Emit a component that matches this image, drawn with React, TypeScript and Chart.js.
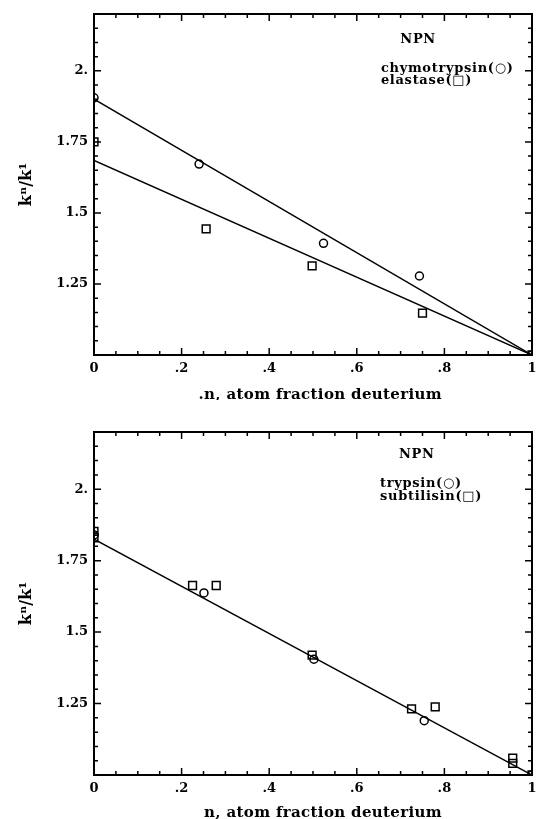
import React, { useEffect, useRef } from "react";
import { Chart, registerables } from "chart.js";
Chart.register(...registerables);

// ---- data: top panel (NPN, chymotrypsin / elastase) ----
const topChymoX = [0, 0.24, 0.524, 0.743, 1];
const topChymoY = [1.905, 1.672, 1.393, 1.278, 1.0];
const topElastX = [0, 0.256, 0.498, 0.75, 1];
const topElastY = [1.75, 1.444, 1.314, 1.147, 1.0];
const topChymoFitX = [0, 1];
const topChymoFitY = [1.9, 1.0];
const topElastFitX = [0, 1];
const topElastFitY = [1.685, 1.0];

// ---- data: bottom panel (NPN, trypsin / subtilisin) ----
const botTrypX = [0, 0.251, 0.502, 0.754, 1];
const botTrypY = [1.84, 1.637, 1.405, 1.19, 1.0];
const botSubX = [0, 0, 0.225, 0.279, 0.498, 0.725, 0.779, 0.956, 0.956, 1];
const botSubY = [1.852, 1.83, 1.663, 1.663, 1.419, 1.231, 1.238, 1.059, 1.041, 1.0];
const botFitX = [0, 1];
const botFitY = [1.825, 1.0];

// ---- ticks ----
const xTickValues = [0, 0.2, 0.4, 0.6, 0.8, 1];
const xTickLabels = ["0", ".2", ".4", ".6", ".8", "1"];
const yTickValues = [1.25, 1.5, 1.75, 2.0];
const yTickLabels = ["1.25", "1.5", "1.75", "2."];

const topTitleX = ".n, atom fraction deuterium";
const botTitleX = "n, atom fraction deuterium";
const titleY = "k\u207F/k\u00B9";
const topNotes = ["NPN", "chymotrypsin(\u25CB)", "elastase(\u25A1)"];
const botNotes = ["NPN", "trypsin(\u25CB)", "subtilisin(\u25A1)"];

const FONT = "'DejaVu Serif', serif";

const pts = (xs: number[], ys: number[]) => xs.map((x, i) => ({ x, y: ys[i] }));

function framePlugin() {
  return {
    id: "frameTicks",
    afterDraw(chart: any) {
      const { ctx, chartArea: a, scales } = chart;
      const xs = scales.x, ys = scales.y;
      ctx.save();
      ctx.strokeStyle = "#000";
      ctx.lineWidth = 2;
      ctx.strokeRect(a.left, a.top, a.right - a.left, a.bottom - a.top);
      ctx.lineWidth = 1.5;
      ctx.beginPath();
      for (let i = 0; i <= 20; i++) {
        const px = xs.getPixelForValue(i * 0.05);
        const len = i % 4 === 0 ? 7 : 4;
        ctx.moveTo(px, a.bottom); ctx.lineTo(px, a.bottom - len);
        ctx.moveTo(px, a.top); ctx.lineTo(px, a.top + len);
      }
      for (let i = 0; i <= 24; i++) {
        const py = ys.getPixelForValue(1 + i * 0.05);
        const len = i % 5 === 0 ? 7 : 4;
        ctx.moveTo(a.left, py); ctx.lineTo(a.left + len, py);
        ctx.moveTo(a.right, py); ctx.lineTo(a.right - len, py);
      }
      ctx.stroke();
      ctx.restore();
    },
  };
}

function textPlugin(
  lines: string[],
  xTitle: string,
  titleDy: number,
  nx: number,
  ny: number,
  lx: number,
  ly1: number,
  ly2: number
) {
  return {
    id: "notes",
    afterDraw(chart: any) {
      const { ctx, scales, chartArea: a } = chart;
      const xs = scales.x, ys = scales.y;
      ctx.save();
      ctx.fillStyle = "#000";
      ctx.textBaseline = "middle";
      ctx.font = `bold 13px ${FONT}`;
      (ctx as any).letterSpacing = "0.7px";
      ctx.textAlign = "center";
      ctx.fillText(lines[0], xs.getPixelForValue(nx), ys.getPixelForValue(ny));
      ctx.textAlign = "left";
      ctx.fillText(lines[1], xs.getPixelForValue(lx), ys.getPixelForValue(ly1));
      ctx.fillText(lines[2], xs.getPixelForValue(lx), ys.getPixelForValue(ly2));
      // x-axis title
      ctx.font = `bold 15px ${FONT}`;
      (ctx as any).letterSpacing = "0.35px";
      ctx.textAlign = "right";
      ctx.textBaseline = "alphabetic";
      ctx.fillText(xTitle, a.right - 90, a.bottom + titleDy);
      ctx.restore();
    },
  };
}

function makeConfig(
  circles: { x: number; y: number }[],
  squares: { x: number; y: number }[],
  fits: { x: number; y: number }[][],
  padTop: number,
  xAxisHeight: number,
  plugins: any[]
) {
  const datasets: any[] = fits.map((f) => ({
    data: f,
    showLine: true,
    borderColor: "#000",
    borderWidth: 1.5,
    pointRadius: 0,
    fill: false,
  }));
  datasets.push({
    data: circles,
    pointStyle: "circle",
    pointRadius: 4,
    borderColor: "#000",
    borderWidth: 1.5,
    backgroundColor: "rgba(0,0,0,0)",
  });
  datasets.push({
    data: squares,
    pointStyle: "rect",
    pointRadius: 5.5,
    borderColor: "#000",
    borderWidth: 1.5,
    backgroundColor: "rgba(0,0,0,0)",
  });
  return {
    type: "scatter",
    data: { datasets },
    options: {
      responsive: false,
      animation: false,
      layout: { autoPadding: false, padding: { top: padTop, right: 4, left: 0, bottom: 0 } },
      plugins: { legend: { display: false }, tooltip: { enabled: false } },
      scales: {
        x: {
          type: "linear",
          min: 0,
          max: 1,
          afterBuildTicks: (s: any) => {
            s.ticks = xTickValues.map((v) => ({ value: v }));
          },
          afterFit: (s: any) => {
            s.height = xAxisHeight;
            s.paddingLeft = 0;
            s.paddingRight = 0;
          },
          grid: { display: false, drawTicks: false },
          border: { display: false },
          ticks: {
            color: "#000",
            padding: 6,
            maxRotation: 0,
            autoSkip: false,
            font: { family: FONT, weight: "bold", size: 13 },
            callback: (v: number) => {
              const i = xTickValues.findIndex((t) => Math.abs(t - v) < 1e-6);
              return i >= 0 ? xTickLabels[i] : "";
            },
          },
        },
        y: {
          type: "linear",
          min: 1.0,
          max: 2.2,
          afterBuildTicks: (s: any) => {
            s.ticks = yTickValues.map((v) => ({ value: v }));
          },
          afterFit: (s: any) => {
            s.width = 94;
            s.paddingTop = 0;
            s.paddingBottom = 0;
          },
          grid: { display: false, drawTicks: false },
          border: { display: false },
          ticks: {
            color: "#000",
            padding: 6,
            autoSkip: false,
            font: { family: FONT, weight: "bold", size: 13 },
            callback: (v: number) => {
              const i = yTickValues.findIndex((t) => Math.abs(t - v) < 1e-6);
              return i >= 0 ? yTickLabels[i] : "";
            },
          },
          title: {
            display: true,
            text: titleY,
            color: "#000",
            font: { family: FONT, weight: "bold", size: 16, lineHeight: 1 },
            padding: { top: 19, bottom: 0 },
          },
        },
      },
    },
    plugins,
  };
}

export default function App() {
  const topRef = useRef<HTMLCanvasElement>(null);
  const botRef = useRef<HTMLCanvasElement>(null);

  useEffect(() => {
    const c1 = new Chart(
      topRef.current as HTMLCanvasElement,
      makeConfig(
        pts(topChymoX, topChymoY),
        pts(topElastX, topElastY),
        [pts(topChymoFitX, topChymoFitY), pts(topElastFitX, topElastFitY)],
        14,
        45,
        [framePlugin(), textPlugin(topNotes, topTitleX, 44, 0.74, 2.109, 0.655, 2.007, 1.965)]
      ) as any
    );
    const c2 = new Chart(
      botRef.current as HTMLCanvasElement,
      makeConfig(
        pts(botTrypX, botTrypY),
        pts(botSubX, botSubY),
        [pts(botFitX, botFitY)],
        32,
        44,
        [framePlugin(), textPlugin(botNotes, botTitleX, 42, 0.737, 2.12, 0.653, 2.018, 1.975)]
      ) as any
    );
    return () => {
      c1.destroy();
      c2.destroy();
    };
  }, []);

  return (
    <div style={{ position: "absolute", left: 0, top: 0, width: 536, height: 819, background: "#fff" }}>
      <canvas ref={topRef} width={536} height={400} style={{ display: "block" }} />
      <canvas ref={botRef} width={536} height={419} style={{ display: "block" }} />
    </div>
  );
}
